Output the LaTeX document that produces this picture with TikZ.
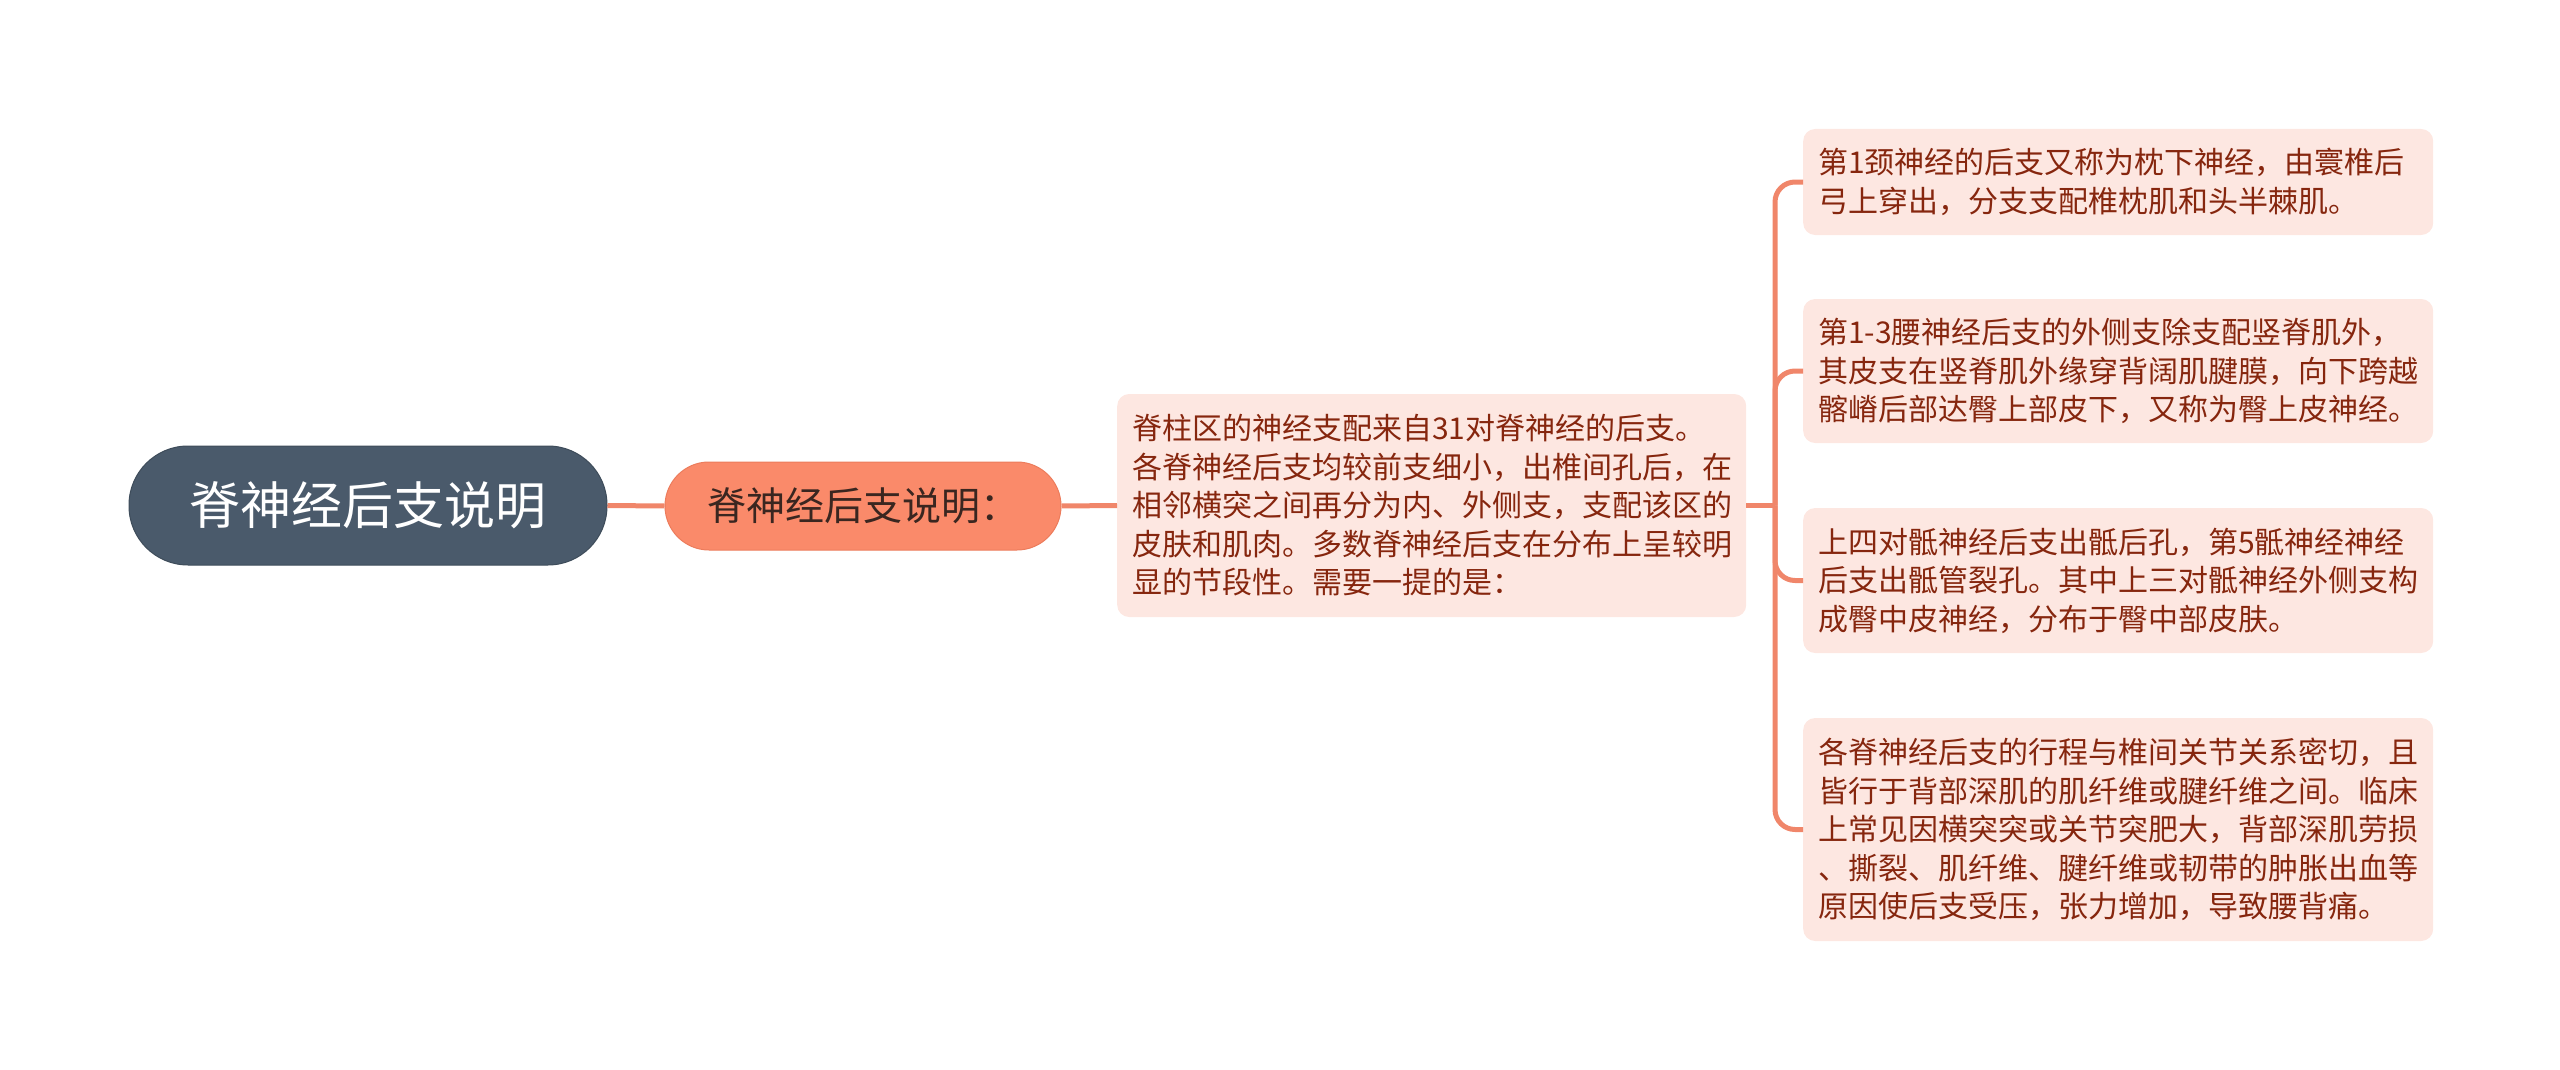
\documentclass[tikz,border=0pt]{standalone}
\usepackage{fontspec}
\newfontfamily\cjk{Noto Sans CJK SC}
\definecolor{rootc}{HTML}{4A5A6B}
\definecolor{rootd}{HTML}{3E4C5A}
\definecolor{subc}{HTML}{FA8A6A}
\definecolor{subd}{HTML}{EC7C5C}
\definecolor{subtext}{HTML}{3A2620}
\definecolor{linkc}{HTML}{F0866A}
\definecolor{leafc}{HTML}{FDE7E1}
\definecolor{leaft}{HTML}{86260E}
\begin{document}
\begin{tikzpicture}[x=1pt,y=-1pt,
  rootbox/.style={fill=rootc, draw=rootd, line width=1pt, rounded corners=59pt, minimum width=478pt, minimum height=119pt, inner sep=0pt, text=white, font=\cjk\fontsize{51}{60}\selectfont},
  subbox/.style={fill=subc, draw=subd, line width=1pt, rounded corners=44pt, minimum width=396pt, minimum height=88pt, inner sep=0pt, text=subtext, font=\cjk\fontsize{39}{46}\selectfont},
  leaf/.style={fill=leafc, rounded corners=12pt, text=leaft, font=\cjk\fontsize{30}{38.5}\selectfont, text width=600pt, align=left, inner xsep=15pt, inner ysep=0pt, anchor=west},
  link/.style={draw=linkc, line width=5pt}]
\useasboundingbox (0,0) rectangle (2560,1070);
\node[rootbox] (root) at (368,505.5) {脊神经后支说明};
\node[subbox] (sub) at (863,506) {脊神经后支说明：};
\node[leaf, text width=599pt, minimum height=223pt] (mid) at (1117,505.5) {脊柱区的神经支配来自31对脊神经的后支。\\各脊神经后支均较前支细小，出椎间孔后，在\\相邻横突之间再分为内、外侧支，支配该区的\\皮肤和肌肉。多数脊神经后支在分布上呈较明\\显的节段性。需要一提的是：};
\node[leaf, minimum height=106pt] (b1) at (1803,182) {第1颈神经的后支又称为枕下神经，由寰椎后\\弓上穿出，分支支配椎枕肌和头半棘肌。};
\node[leaf, minimum height=144pt] (b2) at (1803,371) {第1-3腰神经后支的外侧支除支配竖脊肌外，\\其皮支在竖脊肌外缘穿背阔肌腱膜，向下跨越\\髂嵴后部达臀上部皮下，又称为臀上皮神经。};
\node[leaf, minimum height=145pt] (b3) at (1803,580.5) {上四对骶神经后支出骶后孔，第5骶神经神经\\后支出骶管裂孔。其中上三对骶神经外侧支构\\成臀中皮神经，分布于臀中部皮肤。};
\node[leaf, minimum height=223pt] (b4) at (1803,829.5) {各脊神经后支的行程与椎间关节关系密切，且\\皆行于背部深肌的肌纤维或腱纤维之间。临床\\上常见因横突突或关节突肥大，背部深肌劳损\\、撕裂、肌纤维、腱纤维或韧带的肿胀出血等\\原因使后支受压，张力增加，导致腰背痛。};
\coordinate (j) at (1775,505.5);
\draw[link] (root.east) -- (sub.west);
\draw[link] (sub.east) -- (mid.west);
\draw[link] (mid.east) -- (j);
\foreach \b in {b1,b2,b3,b4} \draw[link, rounded corners=20pt] (j) |- (\b.west);
\end{tikzpicture}
\end{document}
